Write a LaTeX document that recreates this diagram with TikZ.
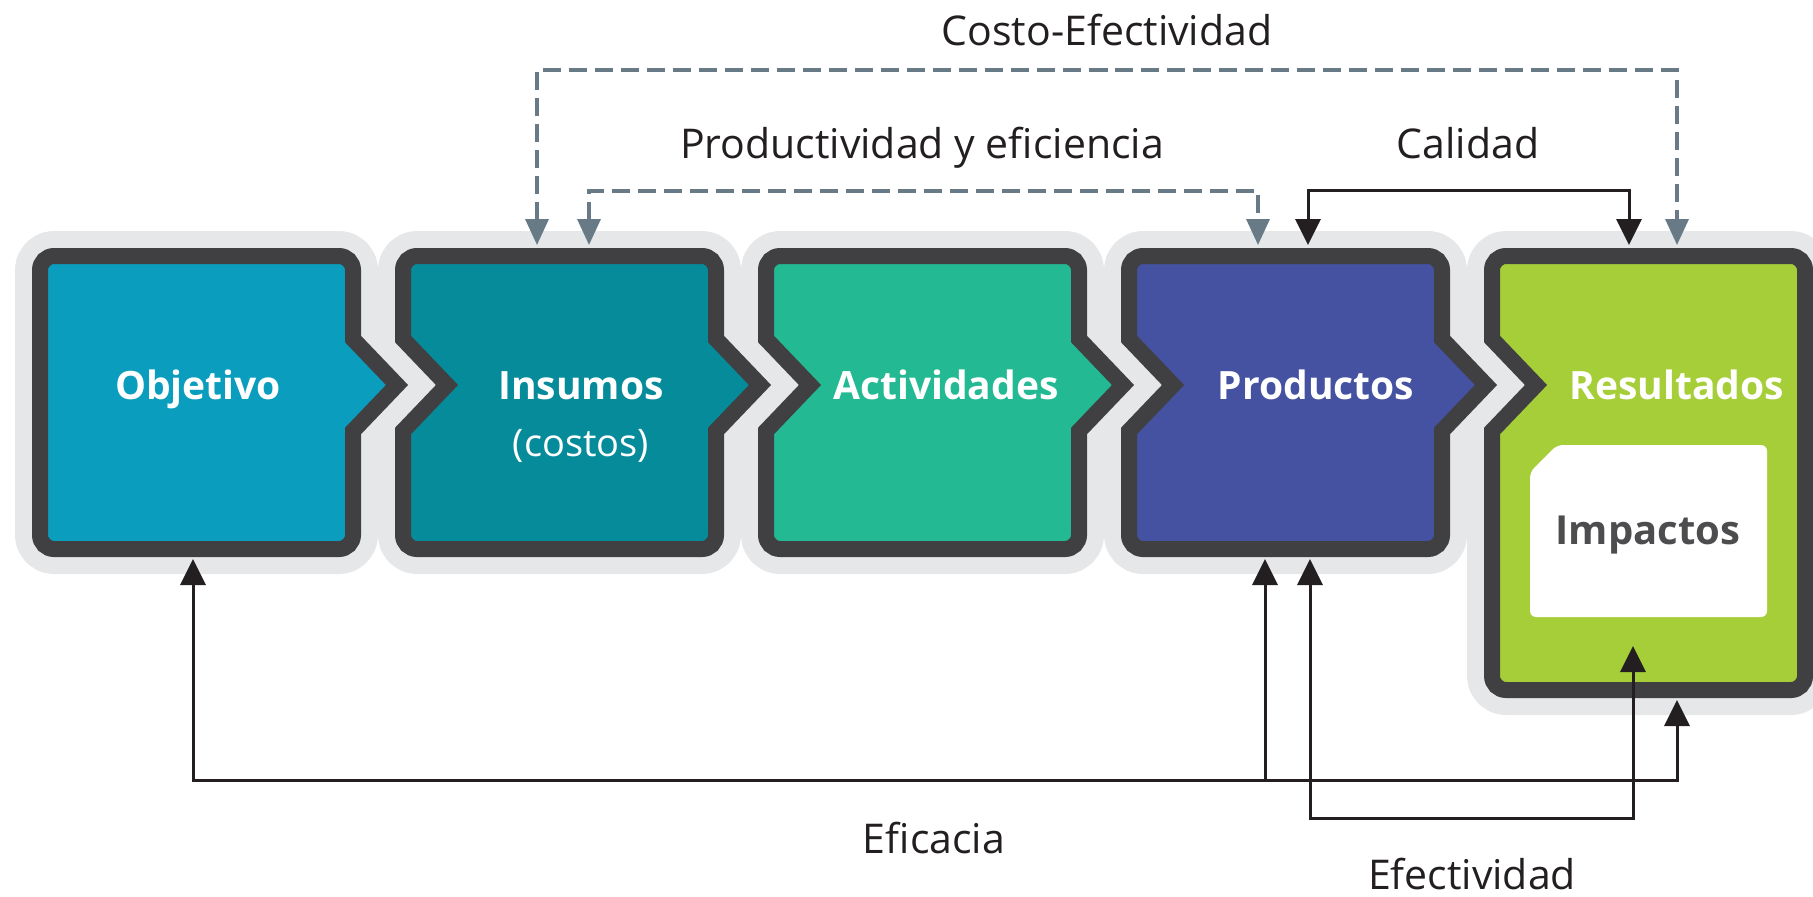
\documentclass[tikz,border=0pt]{standalone}
\usepackage{fontspec}
\setmainfont{Open Sans}
\usepackage{tikz}
\usetikzlibrary{arrows.meta}
\definecolor{halo}{HTML}{E6E7E8}
\definecolor{frame}{HTML}{404042}
\definecolor{cobj}{HTML}{0B9DBE}
\definecolor{cins}{HTML}{068B9B}
\definecolor{cact}{HTML}{23B993}
\definecolor{cprd}{HTML}{4551A1}
\definecolor{cres}{HTML}{A6CE39}
\definecolor{slate}{HTML}{677A85}
\definecolor{ink}{HTML}{231F20}
\definecolor{imptext}{HTML}{4D4D4F}

\begin{document}
\begin{tikzpicture}[x=1pt,y=1pt]
\tikzstyle{every node}+=[inner sep=0pt]
\tikzstyle{stage}=[draw=frame,line width=16pt,line join=miter,preaction={draw=halo,line width=50pt,line join=round}]
\tikzstyle{boxlabel}=[anchor=base,text=white,font=\fontsize{39}{46}\selectfont\bfseries]
\tikzstyle{linklabel}=[anchor=base,text=ink,text depth=0pt,font=\fontsize{41}{48}\selectfont]
\tikzstyle{dashlink}=[draw=slate,line width=3.5pt,dash pattern=on 18pt off 8pt,{Triangle[length=26pt,width=23pt]}-{Triangle[length=26pt,width=23pt]}]
\tikzstyle{twolink}=[draw=ink,line width=3pt,{Triangle[length=26pt,width=25pt]}-{Triangle[length=26pt,width=25pt]}]
\tikzstyle{onelink}=[draw=ink,line width=3pt,-{Triangle[length=26pt,width=25pt]}]
\useasboundingbox (0,0) rectangle (1813,-897);
\draw[stage,fill=cobj] (40,-270) arc[start angle=180,end angle=90,radius=14] -- (339,-256) arc[start angle=90,end angle=0,radius=14] -- (353,-339) -- (397,-385) -- (353,-431) -- (353,-535) arc[start angle=0,end angle=-90,radius=14] -- (54,-549) arc[start angle=270,end angle=180,radius=14] -- cycle;
\draw[stage,fill=cins] (403,-339) -- (403,-270) arc[start angle=180,end angle=90,radius=14] -- (702,-256) arc[start angle=90,end angle=0,radius=14] -- (716,-339) -- (760,-385) -- (716,-431) -- (716,-535) arc[start angle=0,end angle=-90,radius=14] -- (417,-549) arc[start angle=270,end angle=180,radius=14] -- (403,-431) -- (447,-385) -- cycle;
\draw[stage,fill=cact] (766,-339) -- (766,-270) arc[start angle=180,end angle=90,radius=14] -- (1065,-256) arc[start angle=90,end angle=0,radius=14] -- (1079,-339) -- (1123,-385) -- (1079,-431) -- (1079,-535) arc[start angle=0,end angle=-90,radius=14] -- (780,-549) arc[start angle=270,end angle=180,radius=14] -- (766,-431) -- (810,-385) -- cycle;
\draw[stage,fill=cprd] (1129,-339) -- (1129,-270) arc[start angle=180,end angle=90,radius=14] -- (1428,-256) arc[start angle=90,end angle=0,radius=14] -- (1442,-339) -- (1486,-385) -- (1442,-431) -- (1442,-535) arc[start angle=0,end angle=-90,radius=14] -- (1143,-549) arc[start angle=270,end angle=180,radius=14] -- (1129,-431) -- (1173,-385) -- cycle;
\draw[stage,fill=cres] (1492,-339) -- (1492,-270) arc[start angle=180,end angle=90,radius=14] -- (1791,-256) arc[start angle=90,end angle=0,radius=14] -- (1805,-676) arc[start angle=0,end angle=-90,radius=14] -- (1506,-690) arc[start angle=270,end angle=180,radius=14] -- (1492,-431) -- (1536,-385) -- cycle;
\fill[white,rounded corners=6pt] (1530,-472) -- (1557,-445) -- (1767,-445) -- (1767,-617) -- (1530,-617) -- cycle;
\node[boxlabel] (obj) at (198,-399) {Objetivo};
\node[boxlabel] (ins) at (581,-399) {Insumos};
\node[anchor=base,text=white,font=\fontsize{38}{46}\selectfont] (cost) at (581,-456) {(costos)};
\node[boxlabel] (act) at (946,-399) {Actividades};
\node[boxlabel] (prd) at (1316,-399) {Productos};
\node[boxlabel] (res) at (1677,-399) {Resultados};
\node[boxlabel,text=imptext,font=\fontsize{40}{48}\selectfont\bfseries] (imp) at (1648,-544) {Impactos};
\node[linklabel] (ce) at (1107,-45) {Costo-Efectividad};
\node[linklabel] (pe) at (922,-158) {Productividad y eficiencia};
\node[linklabel] (cal) at (1468,-158) {Calidad};
\node[linklabel] (efc) at (934,-853) {Eficacia};
\node[linklabel] (efv) at (1472,-889) {Efectividad};
\coordinate (ins-n1) at (537,-245);
\coordinate (ins-n2) at (589,-245);
\coordinate (prd-n1) at (1258,-245);
\coordinate (prd-n2) at (1308,-245);
\coordinate (res-n1) at (1629,-245);
\coordinate (res-n2) at (1677,-245);
\coordinate (obj-s) at (193,-559);
\coordinate (prd-s1) at (1265,-559);
\coordinate (prd-s2) at (1310,-559);
\coordinate (res-s) at (1677,-700);
\coordinate (imp-s) at (1633,-646);
\coordinate (ce-line) at (1107,-70);
\coordinate (pe-line) at (922,-191);
\coordinate (cal-line) at (1468,-190);
\coordinate (efc-line) at (934,-780);
\coordinate (efv-line) at (1472,-818);
\draw[dashlink] (ins-n1) |- (ce-line) -| (res-n2);
\draw[dashlink] (ins-n2) |- (pe-line) -| (prd-n1);
\draw[twolink] (prd-n2) |- (cal-line) -| (res-n1);
\draw[twolink] (obj-s) |- (efc-line) -| (res-s);
\draw[onelink] (prd-s1 |- efc-line) -- (prd-s1);
\draw[twolink] (prd-s2) |- (efv-line) -| (imp-s);
\end{tikzpicture}
\end{document}
